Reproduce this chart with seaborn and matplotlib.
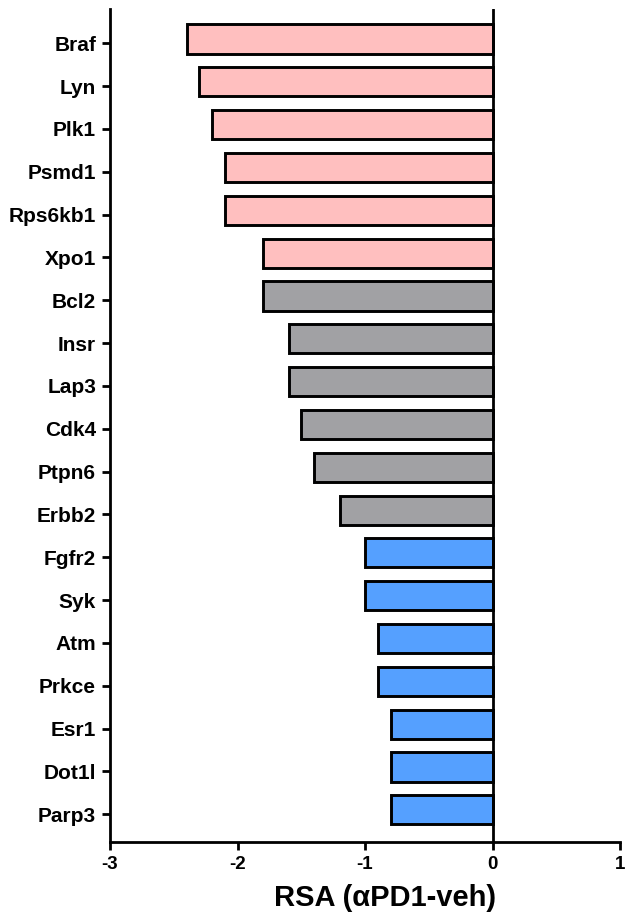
import matplotlib
matplotlib.use("Agg")
import matplotlib.pyplot as plt
import seaborn as sns
import pandas as pd

genes = ["Braf", "Lyn", "Plk1", "Psmd1", "Rps6kb1", "Xpo1", "Bcl2", "Insr", "Lap3",
         "Cdk4", "Ptpn6", "Erbb2", "Fgfr2", "Syk", "Atm", "Prkce", "Esr1", "Dot1l", "Parp3"]
rsa = [-2.4, -2.3, -2.2, -2.1, -2.1, -1.8, -1.8, -1.6, -1.6,
       -1.5, -1.4, -1.2, -1.0, -1.0, -0.9, -0.9, -0.8, -0.8, -0.8]
group = ["up"] * 6 + ["mid"] * 6 + ["down"] * 7
palette = {"up": "#FFBFBF", "mid": "#A1A1A4", "down": "#55A0FF"}
xticks = [-3, -2, -1, 0, 1]
xlabel = "RSA (\u03b1PD1-veh)"

df = pd.DataFrame({"gene": genes, "rsa": rsa, "group": group})

sns.set_style("ticks")
plt.rcParams["font.family"] = ["Liberation Sans", "DejaVu Sans"]
plt.rcParams["text.color"] = "black"
plt.rcParams["xtick.color"] = "black"
plt.rcParams["ytick.color"] = "black"
plt.rcParams["axes.labelcolor"] = "black"

fig = plt.figure(figsize=(6.26, 9.13), dpi=100)
ax = fig.add_axes([110 / 626, 1 - 842 / 913, 510 / 626, 832.5 / 913])

sns.barplot(data=df, y="gene", x="rsa", hue="group", palette=palette, dodge=False,
            orient="h", width=0.68, edgecolor="black", linewidth=2.1, saturation=1,
            legend=False, ax=ax)

ax.axvline(0, color="black", lw=2, zorder=5)
ax.set_xlim(-3, 1)
ax.set_ylim(18.75, -0.69)
ax.set_xticks(xticks)
ax.set_xticklabels([str(t) for t in xticks], fontsize=13.5, fontweight="bold")
# tick marks / labels sit slightly below bar centres in the reference
ax.set_yticks([i + 0.1 for i in range(len(genes))])
ax.set_yticklabels(genes, fontsize=15, fontweight="bold")
ax.set_ylabel("")
ax.set_xlabel(xlabel, fontsize=21, fontweight="bold")
ax.xaxis.set_label_coords(0.54, -0.051)
ax.tick_params(axis="both", width=2, length=6, colors="black", pad=4)
for s in ["top", "right"]:
    ax.spines[s].set_visible(False)
for s in ["left", "bottom"]:
    ax.spines[s].set_linewidth(2)
    ax.spines[s].set_color("black")

fig.savefig("out.png", dpi=100)
